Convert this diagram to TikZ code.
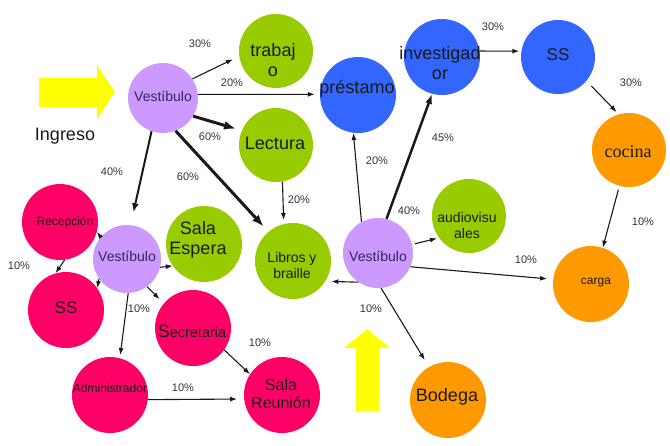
\documentclass[tikz,border=0pt]{standalone}
\usepackage{fontspec}
\setmainfont{Liberation Sans}
\newfontfamily\timesfont{Liberation Serif}
\usetikzlibrary{arrows.meta}
\definecolor{cpurple}{HTML}{CC99FF}
\definecolor{cgreen}{HTML}{99CC00}
\definecolor{cblue}{HTML}{3366FF}
\definecolor{corange}{HTML}{FF9900}
\definecolor{cpink}{HTML}{FF0066}
\definecolor{cyellow}{HTML}{FFFF00}
\definecolor{ctext}{HTML}{1A1A1A}
\definecolor{cvtext}{HTML}{2E2860}
\begin{document}
\begin{tikzpicture}[x=1pt,y=-1pt,
  circ/.style={circle,inner sep=0pt,minimum size=#1},
  txt/.style={align=center,inner sep=0pt,text=ctext},
  vtxt/.style={inner sep=0pt,text=cvtext,font=\fontsize{14}{16}\selectfont},
  big/.style={font=\fontsize{18}{20}\selectfont},
  pct/.style={inner sep=0pt,text=black!80,font=\fontsize{11}{13}\selectfont},
  ar/.style={-{Latex[length=7pt,width=5pt]},line width=1.1pt,draw=black!90},
  armid/.style={-{Latex[length=9pt,width=7pt]},line width=2pt,draw=black!90},
  arthick/.style={-{Latex[length=12pt,width=9pt]},line width=3pt,draw=black!90}]
\useasboundingbox (0,0) rectangle (670,445);

% yellow arrows
\fill[cyellow] (39,78) -- (97,78) -- (97,65) -- (115,92) -- (97,119) -- (97,107) -- (39,107) -- cycle;
\fill[cyellow] (356,411) -- (356,348) -- (344,348) -- (367,329) -- (390,348) -- (379,348) -- (379,411) -- cycle;
\node[txt,font=\fontsize{18}{20}\selectfont] (ingreso) at (65,136) {Ingreso};

% circles
\node[circ=70,fill=cpurple] (v1) at (163,98) {};
\node[circ=74,fill=cgreen] (trab) at (276,51) {};
\node[circ=74,fill=cgreen] (lect) at (276,145) {};
\node[circ=76,fill=cblue] (prest) at (358,95) {};
\node[circ=76,fill=cblue] (inv) at (442,57) {};
\node[circ=74,fill=cblue] (ssb) at (558,57) {};
\node[circ=74,fill=corange] (coc) at (629,150) {};
\node[circ=74,fill=cgreen] (aud) at (469,216) {};
\node[circ=70,fill=cpurple] (v3) at (378,253) {};
\node[circ=76,fill=corange] (carga) at (591,284) {};
\node[circ=76,fill=corange] (bod) at (448,400) {};
\node[circ=76,fill=cgreen] (lib) at (293,261) {};
\node[circ=76,fill=cgreen] (sal) at (204,244) {};
\node[circ=68,fill=cpurple] (v2) at (127,259) {};
\node[circ=76,fill=cpink] (rec) at (60,222) {};
\node[circ=76,fill=cpink] (ssr) at (66,310) {};
\node[circ=76,fill=cpink] (sec) at (193,328) {};
\node[circ=76,fill=cpink] (adm) at (110,395) {};
\node[circ=76,fill=cpink] (sr) at (282,395) {};

% texts
\node[vtxt] (t-v1) at (163,96) {Vestíbulo};
\node[txt,big] (t-trab) at (273,60) {trabaj\\o};
\node[txt,big] (t-lect) at (275,143) {Lectura};
\node[txt,big] (t-prest) at (357,89) {préstamo};
\node[txt,big] (t-inv) at (440,63) {investigad\\or};
\node[txt,font=\fontsize{17}{19}\selectfont] (t-ssb) at (558,55) {SS};
\node[txt,font=\timesfont\fontsize{18}{20}\selectfont] (t-coc) at (628,152) {cocina};
\node[txt,font=\fontsize{14}{16}\selectfont] (t-aud) at (467,225) {audiovisu\\ales};
\node[vtxt] (t-v3) at (378,256) {Vestíbulo};
\node[txt,font=\fontsize{12}{14}\selectfont] (t-carga) at (596,283) {carga};
\node[txt,big] (t-bod) at (447,397) {Bodega};
\node[txt,font=\fontsize{14}{16}\selectfont] (t-lib) at (292,265) {Libros y\\braille};
\node[txt,big] (t-sal) at (198,240) {Sala\\Espera};
\node[vtxt] (t-v2) at (127,256) {Vestíbulo};
\node[txt,font=\fontsize{12}{14}\selectfont] (t-rec) at (65,222) {Recepción};
\node[txt,font=\fontsize{17}{19}\selectfont] (t-ssr) at (66,308) {SS};
\node[txt,font=\fontsize{14.5}{17}\selectfont] (t-sec) at (192,331) {{\fontsize{18}{20}\selectfont S}ecretaria};
\node[txt,font=\fontsize{12}{14}\selectfont] (t-adm) at (110,388) {Administrador};
\node[txt,font=\fontsize{16}{18}\selectfont] (t-sr) at (281,394) {Sala\\Reunión};

% connectors
\draw[ar,shorten >=7pt] (v1.33) -- (trab.188);
\draw[ar,shorten >=5pt] (v1.6) -- (prest.179);
\draw[arthick,shorten >=6pt] (v1.-31) -- (lect.157);
\draw[arthick,shorten >=7pt] (v1.-69) -- (lib.130);
\draw[armid,shorten >=13pt] (v1.251) -- (v2.84);
\draw[ar,shorten >=4pt] (lect.-80) -- (lib.104);
\draw[ar] (v3.118) -- (prest.263);
\draw[-{Latex[length=10pt,width=7pt]},line width=2.5pt,draw=black!90] (v3.76) -- (inv.255);
\draw[ar,shorten >=2pt] (inv.9) -- (ssb.171);
\draw[ar,shorten <=7pt,shorten >=3pt] (ssb.-40) -- (coc.106);
\draw[ar,shorten <=4pt] (coc.255) -- (carga.72);
\draw[ar,shorten <=3pt,shorten >=2pt] (v3.14) -- (aud.216);
\draw[ar,shorten >=6pt] (v3.-23) -- (carga.173.5);
\draw[ar,shorten >=6pt] (v3.236) -- (lib.-32);
\draw[ar,shorten >=8pt] (v3.-85) -- (bod.120);
\draw[ar] (v2.140) -- (rec.-15);
\draw[ar] (rec.-83) -- (ssr.106);
\draw[ar] (v2.215) -- (ssr.35);
\draw[ar] (v2.-14) -- (sal.215);
\draw[ar,shorten >=6pt] (v2.-54) -- (sec.140);
\draw[ar,shorten >=3pt] (v2.-88) -- (adm.75);
\draw[ar] (sec.-35) -- (sr.147);
\draw[ar,shorten >=7pt] (adm.-7) -- (sr.186);

% percentages
\node[pct] (p1) at (200,44) {30\%};
\node[pct] (p2) at (232,83) {20\%};
\node[pct] (p3) at (210,137) {60\%};
\node[pct] (p4) at (112,172) {40\%};
\node[pct] (p5) at (188,177) {60\%};
\node[pct] (p6) at (299,200) {20\%};
\node[pct] (p7) at (493,27) {30\%};
\node[pct] (p8) at (631,83) {30\%};
\node[pct] (p9) at (443,138) {45\%};
\node[pct] (p10) at (377,161) {20\%};
\node[pct] (p11) at (409,211) {40\%};
\node[pct] (p12) at (643,222) {10\%};
\node[pct] (p13) at (526,260) {10\%};
\node[pct] (p14) at (371,309) {10\%};
\node[pct] (p15) at (19,266) {10\%};
\node[pct] (p16) at (139,309) {10\%};
\node[pct] (p17) at (260,343) {10\%};
\node[pct] (p18) at (183,388) {10\%};
\end{tikzpicture}
\end{document}
